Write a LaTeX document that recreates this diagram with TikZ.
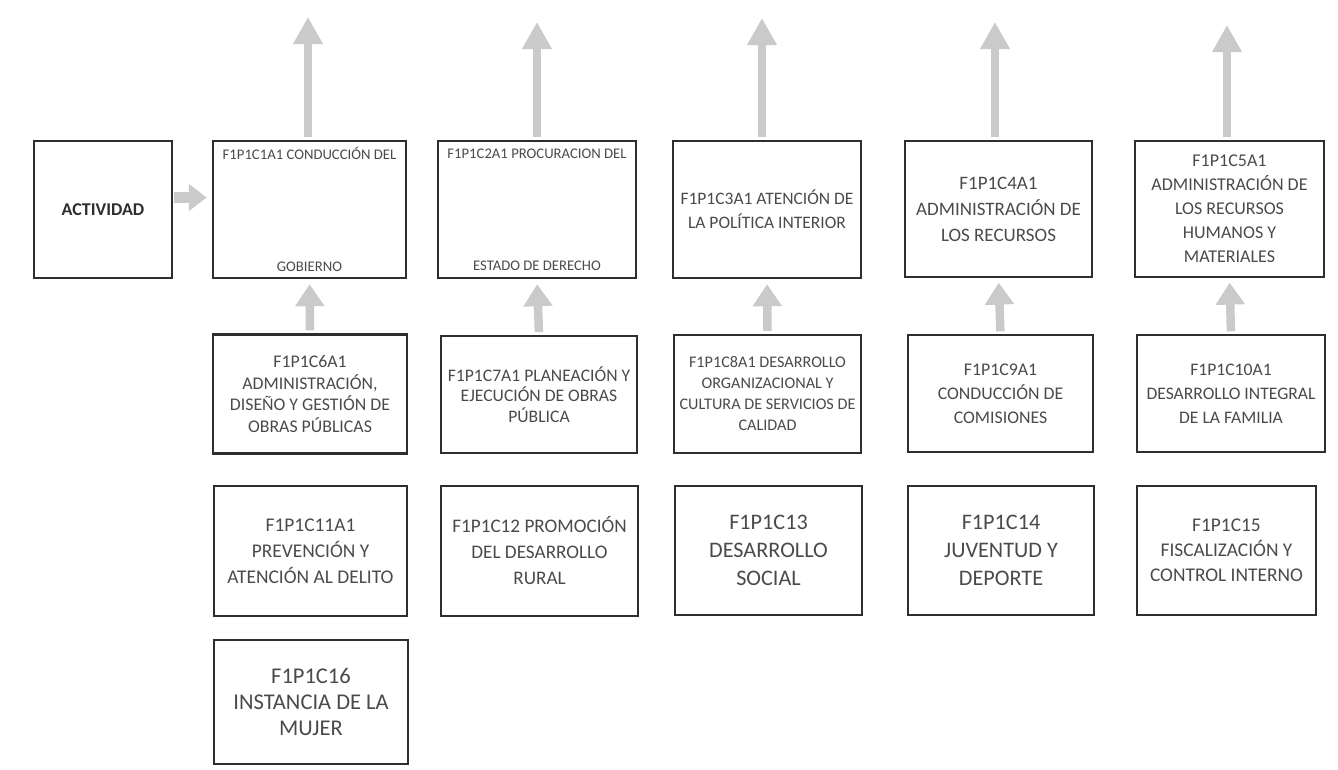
\documentclass[tikz,border=0pt]{standalone}
\usepackage{fontspec}
\setmainfont{Carlito}
\usetikzlibrary{arrows.meta}
\definecolor{borde}{HTML}{2E2E2E}
\definecolor{letra}{HTML}{4A4A4A}
\definecolor{flecha}{HTML}{CACACA}
\newcommand{\tam}[2]{\fontsize{#1}{#2}\selectfont}
\tikzset{
  caja/.style={draw=borde, line width=2.4pt, align=center, text=letra, inner sep=1pt},
  media/.style={line width=1.8pt},
  fina/.style={line width=1.2pt},
  flechaarriba/.style={draw=flecha, line width=8.5pt, -{Triangle[width=28pt,length=27pt]}},
  flechita/.style={draw=flecha, line width=8.5pt, -{Triangle[width=28pt,length=22pt]}},
  flechalado/.style={draw=flecha, line width=11pt, -{Triangle[width=26pt,length=18pt]}}
}
\begin{document}
\begin{tikzpicture}[x=1pt,y=-1pt]
  \useasboundingbox (0,0) rectangle (1338,769);
  % fila 1
  \node[caja, minimum width=138pt, minimum height=137pt, text=borde, font=\bfseries\tam{18}{21}] (act) at (103,209.5) {ACTIVIDAD};
  \node[caja, minimum width=193pt, minimum height=137pt, font=\tam{14.7}{17}] (c1) at (309.5,209.5) {F1P1C1A1 CONDUCCIÓN DEL\\[95pt]GOBIERNO};
  \node[caja, minimum width=198pt, minimum height=137pt, font=\tam{14.7}{17}] (c2) at (537,209.5) {F1P1C2A1 PROCURACION DEL\\[95pt]ESTADO DE DERECHO};
  \node[caja, minimum width=188pt, minimum height=137pt, font=\tam{17.5}{24}] (c3) at (767,209.5) {F1P1C3A1 ATENCIÓN DE\\LA POLÍTICA INTERIOR};
  \node[caja, fina, minimum width=187pt, minimum height=136pt, font=\tam{19}{26}] (c4) at (998.5,209) {F1P1C4A1\\ADMINISTRACIÓN DE\\LOS RECURSOS};
  \node[caja, fina, minimum width=189pt, minimum height=136pt, font=\tam{18}{24}] (c5) at (1229.5,209) {F1P1C5A1\\ADMINISTRACIÓN DE\\LOS RECURSOS\\HUMANOS Y\\MATERIALES};
  % fila 2
  \node[caja, minimum width=194pt, minimum height=119pt, font=\tam{17.8}{21.7}] (c6) at (310,394) {F1P1C6A1\\ADMINISTRACIÓN,\\DISEÑO Y GESTIÓN DE\\OBRAS PÚBLICAS};
  \node[caja, media, minimum width=196pt, minimum height=117pt, font=\tam{17.6}{20.5}] (c7) at (539,394.5) {F1P1C7A1 PLANEACIÓN Y\\EJECUCIÓN DE OBRAS\\PÚBLICA};
  \node[caja, minimum width=187pt, minimum height=118pt, font=\tam{16.2}{21}] (c8) at (767.5,394) {F1P1C8A1 DESARROLLO\\ORGANIZACIONAL Y\\CULTURA DE SERVICIOS DE\\CALIDAD};
  \node[caja, fina, minimum width=185pt, minimum height=117pt, font=\tam{17.8}{24}] (c9) at (1000.5,393.5) {F1P1C9A1\\CONDUCCIÓN DE\\COMISIONES};
  \node[caja, fina, minimum width=188pt, minimum height=117pt, font=\tam{17.6}{24}] (c10) at (1231,393.5) {F1P1C10A1\\DESARROLLO INTEGRAL\\DE LA FAMILIA};
  % fila 3
  \node[caja, minimum width=193pt, minimum height=130pt, font=\tam{19.4}{26}] (c11) at (310.5,551) {F1P1C11A1\\PREVENCIÓN Y\\ATENCIÓN AL DELITO};
  \node[caja, minimum width=197pt, minimum height=130pt, font=\tam{19.2}{26}] (c12) at (539.5,551) {F1P1C12 PROMOCIÓN\\DEL DESARROLLO\\RURAL};
  \node[caja, minimum width=187pt, minimum height=129pt, font=\tam{22.2}{28}] (c13) at (768.5,550.5) {F1P1C13\\DESARROLLO\\SOCIAL};
  \node[caja, minimum width=186pt, minimum height=129pt, font=\tam{22.2}{28}] (c14) at (1001,550.5) {F1P1C14\\JUVENTUD Y\\DEPORTE};
  \node[caja, minimum width=179pt, minimum height=129pt, font=\tam{19.4}{25}] (c15) at (1226.5,550.5) {F1P1C15\\FISCALIZACIÓN Y\\CONTROL INTERNO};
  % fila 4
  \node[caja, minimum width=194pt, minimum height=124pt, font=\tam{22.5}{26}] (c16) at (311,702) {F1P1C16\\INSTANCIA DE LA\\MUJER};
  % flechas hacia arriba
  \foreach \c/\x/\y in {c1/308/17, c2/537/22, c3/762/18, c4/995/22, c5/1227/25} {
    \coordinate (t\c) at (\x,\y);
    \draw[flechaarriba, shorten <=3pt] (\c.north -| t\c) -- (t\c);
  }
  \foreach \a/\b in {c6/c1, c7/c2, c8/c3, c9/c4, c10/c5}
    \draw[flechita, shorten <=3pt, shorten >=5pt] (\a.north) -- (\b.south);
  \draw[flechalado, shorten <=1pt, shorten >=5pt] ([yshift=12pt]act.east) -- ([yshift=12pt]c1.west);
\end{tikzpicture}
\end{document}
